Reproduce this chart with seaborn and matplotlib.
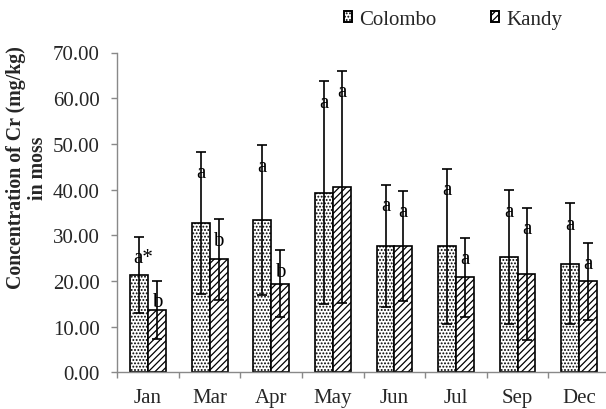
import matplotlib
matplotlib.use("Agg")
import matplotlib.pyplot as plt
import matplotlib.patches as mpatches
import numpy as np
import pandas as pd
import seaborn as sns

months = ["Jan", "Mar", "Apr", "May", "Jun", "Jul", "Sep", "Dec"]
sites = ["Colombo", "Kandy"]
colombo_mean = [21.3, 32.7, 33.3, 39.3, 27.6, 27.6, 25.2, 23.8]
colombo_sd = [8.3, 15.6, 16.4, 24.4, 13.4, 17.0, 14.6, 13.2]
kandy_mean = [13.6, 24.7, 19.4, 40.6, 27.6, 20.8, 21.5, 19.9]
kandy_sd = [6.4, 8.8, 7.3, 25.4, 12.1, 8.7, 14.5, 8.4]
colombo_letters = ["a*", "a", "a", "a", "a", "a", "a", "a"]
kandy_letters = ["b", "b", "b", "a", "a", "a", "a", "a"]
yticks = [0, 10, 20, 30, 40, 50, 60, 70]

df = pd.DataFrame({
    "Month": months * 2,
    "Site": [sites[0]] * len(months) + [sites[1]] * len(months),
    "Mean": colombo_mean + kandy_mean,
})
sds = {sites[0]: colombo_sd, sites[1]: kandy_sd}
letters = {sites[0]: colombo_letters, sites[1]: kandy_letters}
hatches = {sites[0]: ".....", sites[1]: "/////"}

sns.set_style("white")
plt.rcParams["font.family"] = ["Liberation Serif", "DejaVu Serif"]
plt.rcParams["hatch.linewidth"] = 0.9
plt.rcParams["hatch.color"] = "black"

fig = plt.figure(figsize=(6.06, 4.10), dpi=100)
W, H = 606, 410
ax_left, ax_right, ax_bottom, ax_top = 117.3, 610.0, 373.3, 53.5
ax = fig.add_axes([ax_left / W, 1 - ax_bottom / H,
                   (ax_right - ax_left) / W, (ax_bottom - ax_top) / H])

sns.barplot(data=df, x="Month", y="Mean", hue="Site", order=months,
            hue_order=sites, errorbar=None, width=0.58, gap=0,
            palette=["white", "white"], edgecolor="black", linewidth=1.2,
            legend=False, ax=ax, zorder=2)

for site, cont in zip(sites, ax.containers):
    xs, tops = [], []
    for bar in cont:
        bar.set_hatch(hatches[site])
        bar.set_edgecolor("black")
        xs.append(bar.get_x() + bar.get_width() / 2)
        tops.append(bar.get_height())
    ax.errorbar(xs, tops, yerr=sds[site], fmt="none", ecolor="black",
                elinewidth=1.2, capsize=3.9, capthick=1.2, zorder=4)
    for x, m, s, lab in zip(xs, tops, sds[site], letters[site]):
        dx = 3 if "*" in lab else 0
        ax.annotate(lab, xy=(x, m + s), xytext=(dx, -15),
                    textcoords="offset points", ha="center", va="center",
                    fontsize=15, color="black", zorder=5)

ax.set_ylim(0, 70)
ax.set_xlim(-0.5, len(months) - 0.5)
ax.set_yticks(yticks)
ax.set_yticklabels([f"{v:.2f}" for v in yticks])
ax.set_xticks(range(len(months)))
ax.set_xticklabels(months)
ax.set_xticks(np.arange(-0.5, len(months), 1.0), minor=True)
ax.set_xlabel("")
ax.set_ylabel("")

for side in ["top", "right"]:
    ax.spines[side].set_visible(False)
for side in ["left", "bottom"]:
    ax.spines[side].set_color("#898989")
    ax.spines[side].set_linewidth(1.0)
ax.tick_params(axis="y", direction="out", length=4.5, width=1.0,
               color="#898989", labelsize=15, pad=8, left=True)
ax.tick_params(axis="x", which="major", length=0, labelsize=15, pad=11)
ax.tick_params(axis="x", which="minor", direction="out", length=4.5,
               width=1.0, color="#898989", bottom=True)

fig.text(27 / W, 1 - 168 / H, "Concentration of Cr (mg/kg)\nin moss",
         rotation=90, ha="center", va="center", fontsize=14.3,
         fontweight="bold", linespacing=1.15, multialignment="center")

handles = [mpatches.Patch(facecolor="white", edgecolor="black",
                          hatch=hatches[s], linewidth=1.4, label=s)
           for s in sites]
fig.legend(handles=handles, loc="center left",
           bbox_to_anchor=(344 / W, 1 - 20.7 / H), ncol=2, frameon=False,
           fontsize=15, handlelength=0.4, handleheight=0.45,
           handletextpad=0.35, columnspacing=2.6, borderpad=0,
           borderaxespad=0)

fig.savefig("out.png", dpi=100)
